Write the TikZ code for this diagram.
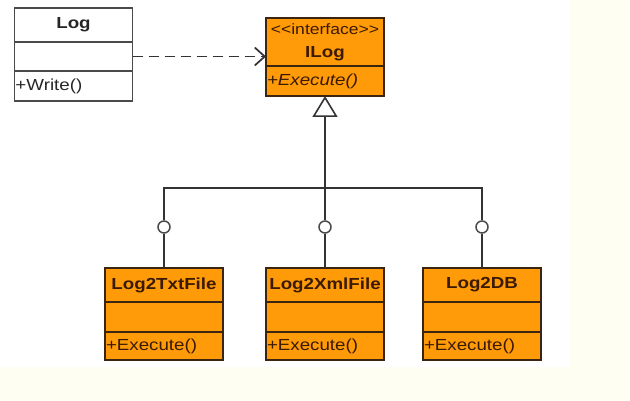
\documentclass[tikz,border=0pt]{standalone}
\usepackage{fontspec}
\setmainfont{Liberation Sans}[FakeStretch=1.17]
\usetikzlibrary{positioning,arrows.meta}
\definecolor{umlorange}{HTML}{FF9A08}
\definecolor{umlbrown}{HTML}{3B2410}
\definecolor{umltext}{HTML}{3A1A00}
\definecolor{umlgray}{HTML}{4A4A4A}
\definecolor{umlline}{HTML}{333333}
\definecolor{umlcream}{HTML}{FEFEF3}

\begin{document}
\begin{tikzpicture}[x=1pt,y=-1pt]
        \tikzset{
        uml font/.style={font=\fontsize{16}{18}\selectfont},
        uml box/.style={uml font,line width=1.9pt,outer sep=0,minimum width=118pt},
        log head/.style={uml box,draw=umlgray,fill=white,text=black!85,minimum height=34pt,inner sep=0,font=\fontsize{16}{18}\selectfont\bfseries},
        log body/.style={uml box,draw=umlgray,fill=white,text=black!85,minimum height=30pt,inner sep=1pt,text width=116pt,align=left},
        cls head/.style={uml box,draw=umlbrown,fill=umlorange,text=umltext,minimum height=34pt,inner sep=0,font=\fontsize{16}{18}\selectfont\bfseries},
        cls body/.style={uml box,draw=umlbrown,fill=umlorange,text=umltext,minimum height=30pt,inner sep=1pt,text width=116pt,align=left},
        lolli/.style={circle,draw=umlgray,fill=white,line width=1.5pt,minimum size=12pt,inner sep=0},
        conn/.style={draw=umlline,line width=1.7pt},
        dep/.style={conn,dash pattern=on 10pt off 6pt,-{Straight Barb[length=10pt,width=18pt]}},
        gen/.style={conn,line width=2.3pt,-{Triangle[length=21pt,width=25pt,fill=white,line width=1.6pt]}}
        }
        \fill[umlcream] (0,0) rectangle (630,401);
        \fill[white] (0,0) rectangle (570,367);
        \useasboundingbox (0,0) rectangle (630,401);

        % Log
        \node[log head] (log) at (73.5,25) {Log};
        \node[log body,minimum height=29pt,below=0pt of log] (loga) {};
        \node[log body,below=0pt of loga] (logm) {+Write()};

        % ILog
        \node[cls head,minimum height=48pt,align=center] (ilog) at (325,42)
            {{\mdseries\fontsize{15}{18}\selectfont <{}<interface>{}>}\\[5pt]ILog};
        \node[cls body,below=0pt of ilog] (ilogm) {\itshape +Execute()};

        % implementations
        \node[cls head] (1) at (164,285) {Log2TxtFile};
        \node[cls body,below=0pt of 1] (1a) {};
        \node[cls body,minimum height=28pt,below=0pt of 1a] (1m) {+Execute()};
        \node[cls head] (2) at (325,285) {Log2XmlFile};
        \node[cls body,below=0pt of 2] (2a) {};
        \node[cls body,minimum height=28pt,below=0pt of 2a] (2m) {+Execute()};
        \node[cls head] (3) at (482,285) {Log2DB};
        \node[cls body,below=0pt of 3] (3a) {};
        \node[cls body,minimum height=28pt,below=0pt of 3a] (3m) {+Execute()};

        \coordinate (hub) at (325,188);
        \node[lolli] (c1) at (164,227) {};
        \node[lolli] (c2) at (325,227) {};
        \node[lolli] (c3) at (482,227) {};

        \path[dep] (loga.east) -- (loga.east -| ilog.west);
        \path[gen] (hub) -- (ilogm.south);
        \path[conn] (c1.north) |- (hub) -| (c3.north);
        \path[conn]
        (c2.north) -- (hub)
        (c1.south) -- (1.north)
        (c2.south) -- (2.north)
        (c3.south) -- (3.north)
        ;
    \end{tikzpicture}
\end{document}
